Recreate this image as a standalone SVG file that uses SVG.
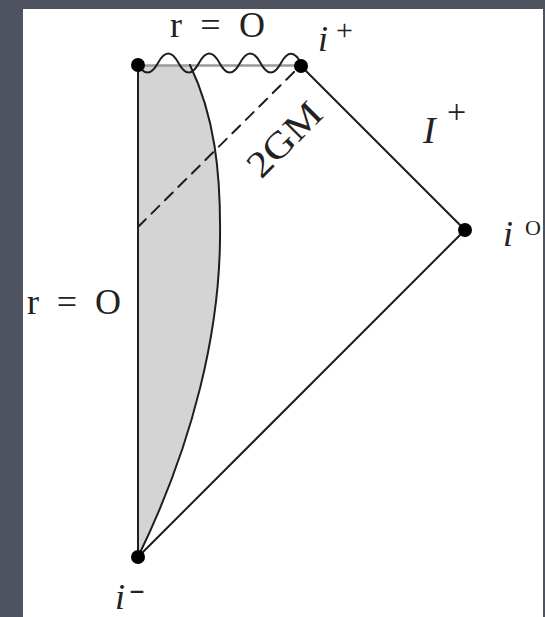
<svg xmlns="http://www.w3.org/2000/svg" width="545" height="617" viewBox="0 0 545 617">
  <style>
    .ln { stroke: #1e1e1e; stroke-width: 2; fill: none; stroke-linecap: round; }
    .dot { fill: #000; }
    .lbl { font-family: "Liberation Serif", "Times New Roman", serif; fill: #222; }
    .it { font-style: italic; }
    .sup { font-style: normal; }
  </style>
  <rect x="0" y="0" width="545" height="617" fill="#4e535f"/>
  <rect x="23" y="9" width="520" height="608" fill="#ffffff"/>

  <g id="collapse-region">
    <path d="M138,65 L190,65 C214,115 221,170 220,240 C219,330 195,440 138,557 Z" fill="#d4d4d4" stroke="none"/>
  </g>

  <g id="connectors">
    <line x1="138" y1="65.5" x2="300" y2="65.5" stroke="#9a9a9a" stroke-width="2.5"/>
    <path class="ln" stroke-width="1.6" d="M137,63 Q147.5,82 158,63 Q168.25,44 178.5,63 Q188.75,82 199,63 Q209.25,44 219.5,63 Q229.75,82 240,63 Q250.25,44 260.5,63 Q270.75,82 281,63 Q291.25,44 301.5,64"/>
    <line class="ln" x1="138" y1="65" x2="138" y2="557"/>
    <line class="ln" x1="301" y1="66" x2="465" y2="230"/>
    <line class="ln" x1="465" y1="230" x2="138" y2="557"/>
    <path class="ln" stroke-width="1.8" d="M190,65 C214,115 221,170 220,240 C219,330 195,440 138,557"/>
    <line class="ln" x1="138" y1="227" x2="298" y2="68" stroke-dasharray="11 8" stroke-linecap="butt"/>
  </g>

  <g id="node-top-left"><circle class="dot" cx="138" cy="65" r="7"/></g>
  <g id="node-i-plus"><circle class="dot" cx="301" cy="66" r="7"/></g>
  <g id="node-i-zero"><circle class="dot" cx="465" cy="230" r="7"/></g>
  <g id="node-i-minus"><circle class="dot" cx="138" cy="557" r="7"/></g>

  <g id="labels">
    <text class="lbl" x="170" y="37" font-size="36" textLength="95" lengthAdjust="spacing">r = O</text>
    <text class="lbl" x="27" y="314" font-size="36" textLength="94" lengthAdjust="spacing">r = O</text>
    <text class="lbl" x="293" y="148" font-size="37" text-anchor="middle" textLength="90" lengthAdjust="spacingAndGlyphs" transform="rotate(-45 293 148)">2GM</text>
    <text class="lbl it" x="318" y="51" font-size="36">i<tspan class="sup" x="336" y="40" font-size="30">+</tspan></text>
    <text class="lbl it" x="423" y="143" font-size="38">I<tspan class="sup" x="447" y="123" font-size="34">+</tspan></text>
    <text class="lbl it" x="503" y="246" font-size="36">i<tspan class="sup" x="525" y="235" font-size="22">O</tspan></text>
    <text class="lbl it" x="115" y="609" font-size="36">i<tspan class="sup" x="129" y="599" font-size="30" textLength="16" lengthAdjust="spacingAndGlyphs">-</tspan></text>
  </g>
</svg>
